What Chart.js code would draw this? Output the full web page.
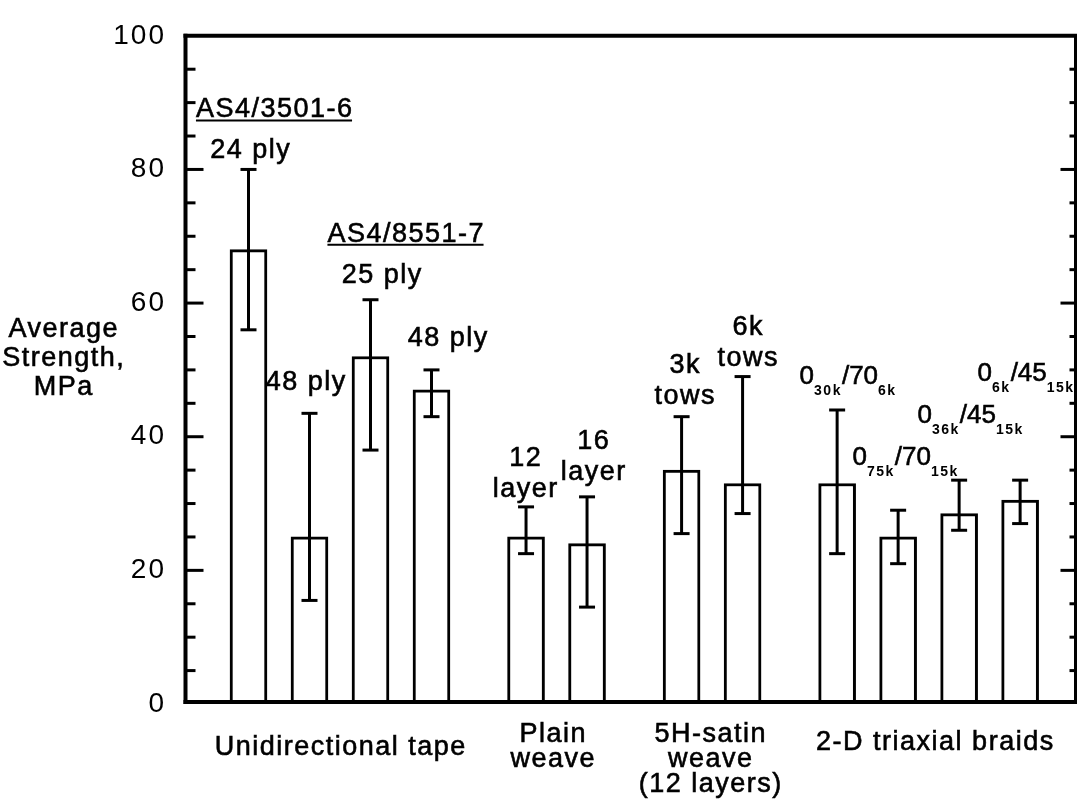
<!DOCTYPE html>
<html>
<head>
<meta charset="utf-8">
<script src="https://cdn.jsdelivr.net/npm/chart.js@4.4.1/dist/chart.umd.min.js"></script>
<style>
  html, body { margin: 0; padding: 0; background: #fff; }
  #wrap { width: 1077px; height: 807px; }
</style>
</head>
<body>
<div id="wrap"><canvas id="strengthChart" width="1077" height="807"></canvas></div>
<script>
// average strength (MPa) with scatter band, one entry per bar, left to right
const meanStrength = [68, 25, 52, 47, 25, 24, 35, 33, 33, 25, 28.5, 30.5];
const strengthLow  = [56, 15.5, 38, 43, 22.5, 14.5, 25.5, 28.5, 22.5, 21, 26, 27];
const strengthHigh = [80, 43.5, 60.5, 50, 29.5, 31, 43, 49, 44, 29, 33.5, 33.5];

// which material group each bar belongs to
const barGroup = [0, 0, 0, 0, 1, 1, 2, 2, 3, 3, 3, 3];
const groupNames = [
  ['Unidirectional tape'],
  ['Plain', 'weave'],
  ['5H-satin', 'weave', '(12 layers)'],
  ['2-D triaxial braids']
];

// text above each bar; _{..} marks a subscript
const barLabels = [
  ['24 ply'], ['48 ply'], ['25 ply'], ['48 ply'],
  ['12', 'layer'], ['16', 'layer'],
  ['3k', 'tows'], ['6k', 'tows'],
  ['0_{30k}/70_{6k}'], ['0_{75k}/70_{15k}'], ['0_{36k}/45_{15k}'], ['0_{6k}/45_{15k}']
];
// prepreg system names written over the first bar of each series
const systemLabels = [{ bar: 0, text: 'AS4/3501-6' }, { bar: 2, text: 'AS4/8551-7' }];
const yTitle = ['Average', 'Strength,', 'MPa'];

const yMin = 0, yMax = 100, yStep = 20, yMinorStep = 5;

// ---- layout (pixels) ----
const FONT = '"Liberation Sans", Arial, Helvetica, sans-serif';
const TEXT = '27px ' + FONT;
const SPACING = 1.5;
const GROUP_GAP = 0.55;           // extra spacing between groups, in bar slots
const labelShift = [              // [dx, dy of last baseline above error cap]
  [1.5, -11], [-4, -23], [11, -17], [16, -24],
  [-1, -10], [6, -17], [3, -13], [5, -11],
  [11, -26], [7.5, -45], [11.5, -57], [6, -99]
];
const groupShift = [0, -4, -2, 6];
const groupBaseline = [755, 742, 742, 750];

const barPos = barGroup.map((g, i) => i + g * GROUP_GAP);

// filled text with a hairline stroke so it reads as heavy as the old print
function inkText(ctx, str, x, y) {
  ctx.fillText(str, x, y);
  ctx.lineWidth = 0.6;
  ctx.strokeText(str, x, y);
}

function spacedText(ctx, str, x, y, align, font, spacing) {
  ctx.font = font;
  ctx.letterSpacing = spacing + 'px';
  const w = ctx.measureText(str).width - spacing;
  const left = align === 'center' ? x - w / 2 : (align === 'right' ? x - w : x);
  ctx.textAlign = 'left';
  inkText(ctx, str, left, y);
  return { left, w };
}

// draws "0_{30k}/70_{6k}" style text centred on cx
function richText(ctx, src, cx, baseline) {
  const parts = [];
  const re = /_\{([^}]*)\}|([^_]+)/g;
  let m;
  while ((m = re.exec(src))) {
    parts.push(m[1] !== undefined ? { t: m[1], sub: true } : { t: m[2], sub: false });
  }
  const mainFont = '26px ' + FONT, subFont = 'bold 14px ' + FONT;
  let total = 0;
  parts.forEach(p => {
    ctx.font = p.sub ? subFont : mainFont;
    ctx.letterSpacing = p.sub ? '1.5px' : '0px';
    p.w = ctx.measureText(p.t).width;
    total += p.w;
  });
  let x = cx - total / 2;
  ctx.textAlign = 'left';
  parts.forEach(p => {
    ctx.font = p.sub ? subFont : mainFont;
    ctx.letterSpacing = p.sub ? '1.5px' : '0px';
    if (p.sub) ctx.fillText(p.t, x, baseline + 11);
    else inkText(ctx, p.t, x, baseline);
    x += p.w;
  });
}

function line(ctx, x1, y1, x2, y2, w) {
  ctx.lineWidth = w;
  ctx.beginPath();
  ctx.moveTo(x1, y1);
  ctx.lineTo(x2, y2);
  ctx.stroke();
}

const decorations = {
  id: 'decorations',
  beforeDraw(chart) {
    // tick labels are drawn letter-spaced like the rest of the text
    chart.ctx.letterSpacing = '2px';
  },
  afterDatasetsDraw(chart) {
    const ctx = chart.ctx;
    const y = chart.scales.y;
    const bars = chart.getDatasetMeta(0).data;
    ctx.save();
    ctx.strokeStyle = '#000';
    ctx.fillStyle = '#000';
    ctx.lineCap = 'butt';

    // error bars
    bars.forEach((bar, i) => {
      const yHi = y.getPixelForValue(strengthHigh[i]);
      const yLo = y.getPixelForValue(strengthLow[i]);
      line(ctx, bar.x, yHi, bar.x, yLo, 3);
      line(ctx, bar.x - 8, yHi, bar.x + 8, yHi, 3);
      line(ctx, bar.x - 8, yLo, bar.x + 8, yLo, 3);
    });

    // labels above the bars
    ctx.textBaseline = 'alphabetic';
    const labelCentre = [];
    const labelTop = [];
    bars.forEach((bar, i) => {
      const lines = barLabels[i];
      const cx = bar.x + labelShift[i][0];
      const last = y.getPixelForValue(strengthHigh[i]) + labelShift[i][1];
      lines.forEach((txt, k) => {
        const by = last - (lines.length - 1 - k) * 31;
        if (txt.includes('_{')) richText(ctx, txt, cx, by);
        else spacedText(ctx, txt, cx, by, 'center', TEXT, SPACING);
      });
      labelCentre[i] = cx;
      labelTop[i] = last - (lines.length - 1) * 31;
    });

    // underlined material system names
    systemLabels.forEach(s => {
      const by = labelTop[s.bar] - 41;
      const r = spacedText(ctx, s.text, labelCentre[s.bar] + 24, by, 'center', TEXT, SPACING);
      line(ctx, r.left, by + 3, r.left + r.w, by + 3, 2);
    });
    ctx.restore();
  },
  afterDraw(chart) {
    const ctx = chart.ctx;
    const { left, right, top, bottom } = chart.chartArea;
    const y = chart.scales.y;
    const bars = chart.getDatasetMeta(0).data;
    ctx.save();
    ctx.strokeStyle = '#000';
    ctx.fillStyle = '#000';
    ctx.lineCap = 'butt';

    // frame
    const ax = left + 0.5, ay = bottom - 2, rx = right - 0.5;
    line(ctx, ax, top - 2, ax, ay + 2, 4);
    line(ctx, ax - 2, ay, right + 1, ay, 4);
    line(ctx, ax - 2, top, right + 1, top, 4);
    line(ctx, rx, top, rx, ay, 3);

    // inward ticks on both sides
    for (let v = yMin + yMinorStep; v < yMax; v += yMinorStep) {
      const py = y.getPixelForValue(v);
      const major = v % yStep === 0;
      line(ctx, ax, py, ax + (major ? 18 : 10), py, 3);
      line(ctx, rx, py, rx - (major ? 15 : 6), py, 3);
    }

    // group names under the axis
    groupNames.forEach((lines, g) => {
      const members = bars.filter((b, i) => barGroup[i] === g);
      const cx = (members[0].x + members[members.length - 1].x) / 2 + groupShift[g];
      lines.forEach((txt, k) => {
        spacedText(ctx, txt, cx, groupBaseline[g] + k * 25, 'center', TEXT, SPACING);
      });
    });

    // y axis title
    yTitle.forEach((txt, k) => {
      spacedText(ctx, txt, 63, 337 + k * 29, 'center', TEXT, SPACING);
    });
    ctx.restore();
  }
};

new Chart(document.getElementById('strengthChart').getContext('2d'), {
  type: 'bar',
  data: {
    datasets: [{
      data: meanStrength.map((v, i) => ({ x: barPos[i], y: v })),
      backgroundColor: '#ffffff',
      borderColor: '#000000',
      borderWidth: 3,
      borderSkipped: 'bottom',
      barThickness: 37
    }]
  },
  options: {
    responsive: false,
    animation: false,
    devicePixelRatio: 1,
    layout: { padding: { top: 29, right: 1, bottom: 103, left: 0 } },
    plugins: { legend: { display: false }, tooltip: { enabled: false } },
    scales: {
      x: { type: 'linear', display: false, offset: false, min: -1.041, max: 13.566 },
      y: {
        min: yMin,
        max: yMax,
        grid: { display: false, drawTicks: false },
        border: { display: false },
        ticks: {
          stepSize: yStep,
          padding: 19,
          color: '#000',
          font: { family: FONT, size: 28 }
        },
        afterFit(scale) { scale.width = 185; }
      }
    }
  },
  plugins: [decorations]
});
</script>
</body>
</html>
